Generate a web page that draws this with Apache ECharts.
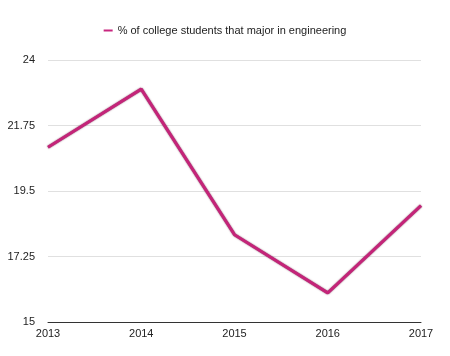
<!DOCTYPE html>
<html><head><meta charset="utf-8">
<script src="https://cdn.jsdelivr.net/npm/echarts@6/dist/echarts.min.js"></script>
<style>html,body{margin:0;padding:0;background:#fff}#c{width:450px;height:356px}</style>
</head><body><div id="c"></div>
<script>
const years = ['2013','2014','2015','2016','2017'];
const engineeringPct = [21, 23, 18, 16, 19];
const seriesName = '% of college students that major in engineering';
const yMin = 15, yMax = 24, yStep = 2.25;

const chart = echarts.init(document.getElementById('c'));
chart.setOption({
  animation: false,
  textStyle: {fontFamily: 'Liberation Sans, Arial, sans-serif'},
  legend: {
    top: 20, left: 'center',
    data: [{name: seriesName, icon: 'rect'}],
    itemWidth: 9, itemHeight: 2, itemGap: 8,
    textStyle: {fontSize: 11, color: '#222'}
  },
  grid: {left: 48, right: 29, top: 60, bottom: 34},
  xAxis: {
    type: 'category', data: years, boundaryGap: false,
    axisLine: {lineStyle: {color: '#333', width: 1}},
    axisTick: {show: false},
    axisLabel: {color: '#222', fontSize: 11, margin: 6, showMinLabel: true, showMaxLabel: true}
  },
  yAxis: {
    type: 'value', min: yMin, max: yMax, interval: yStep,
    axisLine: {show: false}, axisTick: {show: false},
    axisLabel: {color: '#222', fontSize: 11, margin: 13},
    splitLine: {lineStyle: {color: '#e0e0e0', width: 1}}
  },
  series: [{
    name: seriesName, type: 'line', data: engineeringPct,
    symbol: 'none', color: '#c8267f',
    lineStyle: {width: 3, color: '#c42479', shadowColor: 'rgba(90,0,45,0.8)', shadowBlur: 1.5}
  }]
});
</script></body></html>
